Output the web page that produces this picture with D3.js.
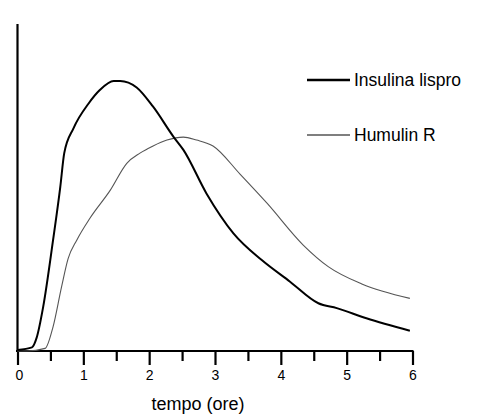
<!DOCTYPE html>
<html>
<head>
<meta charset="utf-8">
<script src="https://cdn.jsdelivr.net/npm/d3@7.9.0/dist/d3.min.js"></script>
<style>
  body { margin: 0; background: #fff; }
  text { font-family: "Liberation Sans", Arial, sans-serif; fill: #000; }
</style>
</head>
<body>
<div id="chart"></div>
<script>
// hours after injection, activity in arbitrary units (0-100)
const lisproHours  = [0, 0.22, 0.29, 0.39, 0.54, 0.65, 0.71, 0.85, 1.08, 1.25, 1.46, 1.56, 1.81, 2.06, 2.37, 2.52, 2.87, 3.28, 3.71, 4.14, 4.57, 4.85, 5.30, 5.96];
const lisproValues = [0.3, 1.1, 4.0, 13.5, 33.9, 50.2, 60.5, 68.1, 75.7, 79.8, 82.6, 82.6, 80.6, 74.7, 65.5, 61.5, 48.2, 36.0, 27.8, 21.2, 14.6, 13.1, 10.0, 6.2];

const humulinHours  = [0, 0.14, 0.42, 0.54, 0.67, 0.77, 0.90, 1.10, 1.41, 1.66, 1.86, 2.06, 2.27, 2.52, 2.72, 2.97, 3.38, 3.79, 4.34, 4.72, 5.23, 5.96];
const humulinValues = [0, 0, 0.8, 7.4, 19.7, 28.3, 33.9, 40.6, 49.2, 57.4, 60.5, 62.7, 64.5, 65.4, 64.5, 62.7, 54.1, 45.2, 32.4, 25.8, 20.5, 16.1];

const seriesNames = ["Insulina lispro", "Humulin R"];
const xTicks = [0, 1, 2, 3, 4, 5, 6];
const xMinorTicks = [0.5, 1.5, 2.5, 3.5, 4.5, 5.5];
const xTitle = "tempo (ore)";

const width = 484;
const height = 420;

const svg = d3.select("#chart")
  .append("svg")
  .attr("width", width)
  .attr("height", height);

const xScale = d3.scaleLinear().domain([0, 6]).range([17.5, 412.5]);
const yScale = d3.scaleLinear().domain([0, 100]).range([351, 24]);

// frame: left and bottom lines
svg.append("line")
  .attr("x1", xScale(0)).attr("x2", xScale(0))
  .attr("y1", yScale(100)).attr("y2", yScale(0))
  .attr("stroke", "#000").attr("stroke-width", 2.2);

svg.append("line")
  .attr("x1", xScale(0) - 1.5).attr("x2", xScale(6) + 1)
  .attr("y1", yScale(0)).attr("y2", yScale(0))
  .attr("stroke", "#000").attr("stroke-width", 2.2);

// major ticks with labels
const xAxis = svg.append("g")
  .attr("transform", `translate(0, ${yScale(0)})`)
  .call(d3.axisBottom(xScale).tickValues(xTicks).tickSize(14).tickPadding(5).tickFormat(d3.format("d")));
xAxis.select(".domain").remove();
xAxis.selectAll(".tick line").attr("stroke", "#000").attr("stroke-width", 2.2);
xAxis.selectAll(".tick text")
  .style("font-family", '"Liberation Sans", Arial, sans-serif')
  .style("font-size", "14px")
  .attr("fill", "#000");
xAxis.selectAll(".tick").filter(d => d === 0).select("text").attr("dx", 1.5);

// minor ticks
const xMinor = svg.append("g")
  .attr("transform", `translate(0, ${yScale(0)})`)
  .call(d3.axisBottom(xScale).tickValues(xMinorTicks).tickSize(10).tickFormat(""));
xMinor.select(".domain").remove();
xMinor.selectAll(".tick line").attr("stroke", "#000").attr("stroke-width", 2.2);

svg.append("text")
  .attr("x", 198)
  .attr("y", 410)
  .attr("text-anchor", "middle")
  .style("font-size", "18px")
  .text(xTitle);

// curves
const line = d3.line()
  .x(d => xScale(d[0]))
  .y(d => yScale(d[1]))
  .curve(d3.curveMonotoneX);

const lispro = d3.zip(lisproHours, lisproValues);
const humulin = d3.zip(humulinHours, humulinValues);

svg.append("path")
  .datum(humulin)
  .attr("d", line)
  .attr("fill", "none")
  .attr("stroke", "#555")
  .attr("stroke-width", 1.1);

svg.append("path")
  .datum(lispro)
  .attr("d", line)
  .attr("fill", "none")
  .attr("stroke", "#000")
  .attr("stroke-width", 2);

// legend
const legend = svg.append("g").attr("class", "legend");
const legendRows = [
  { name: seriesNames[0], y: 80, w: 2.5, color: "#000" },
  { name: seriesNames[1], y: 135, w: 1.2, color: "#000" }
];
legendRows.forEach(r => {
  legend.append("line")
    .attr("x1", 307).attr("x2", 350)
    .attr("y1", r.y).attr("y2", r.y)
    .attr("stroke", r.color)
    .attr("stroke-width", r.w);
  legend.append("text")
    .attr("x", 354)
    .attr("y", r.y + 6)
    .style("font-size", "17.5px")
    .text(r.name);
});
</script>
</body>
</html>
